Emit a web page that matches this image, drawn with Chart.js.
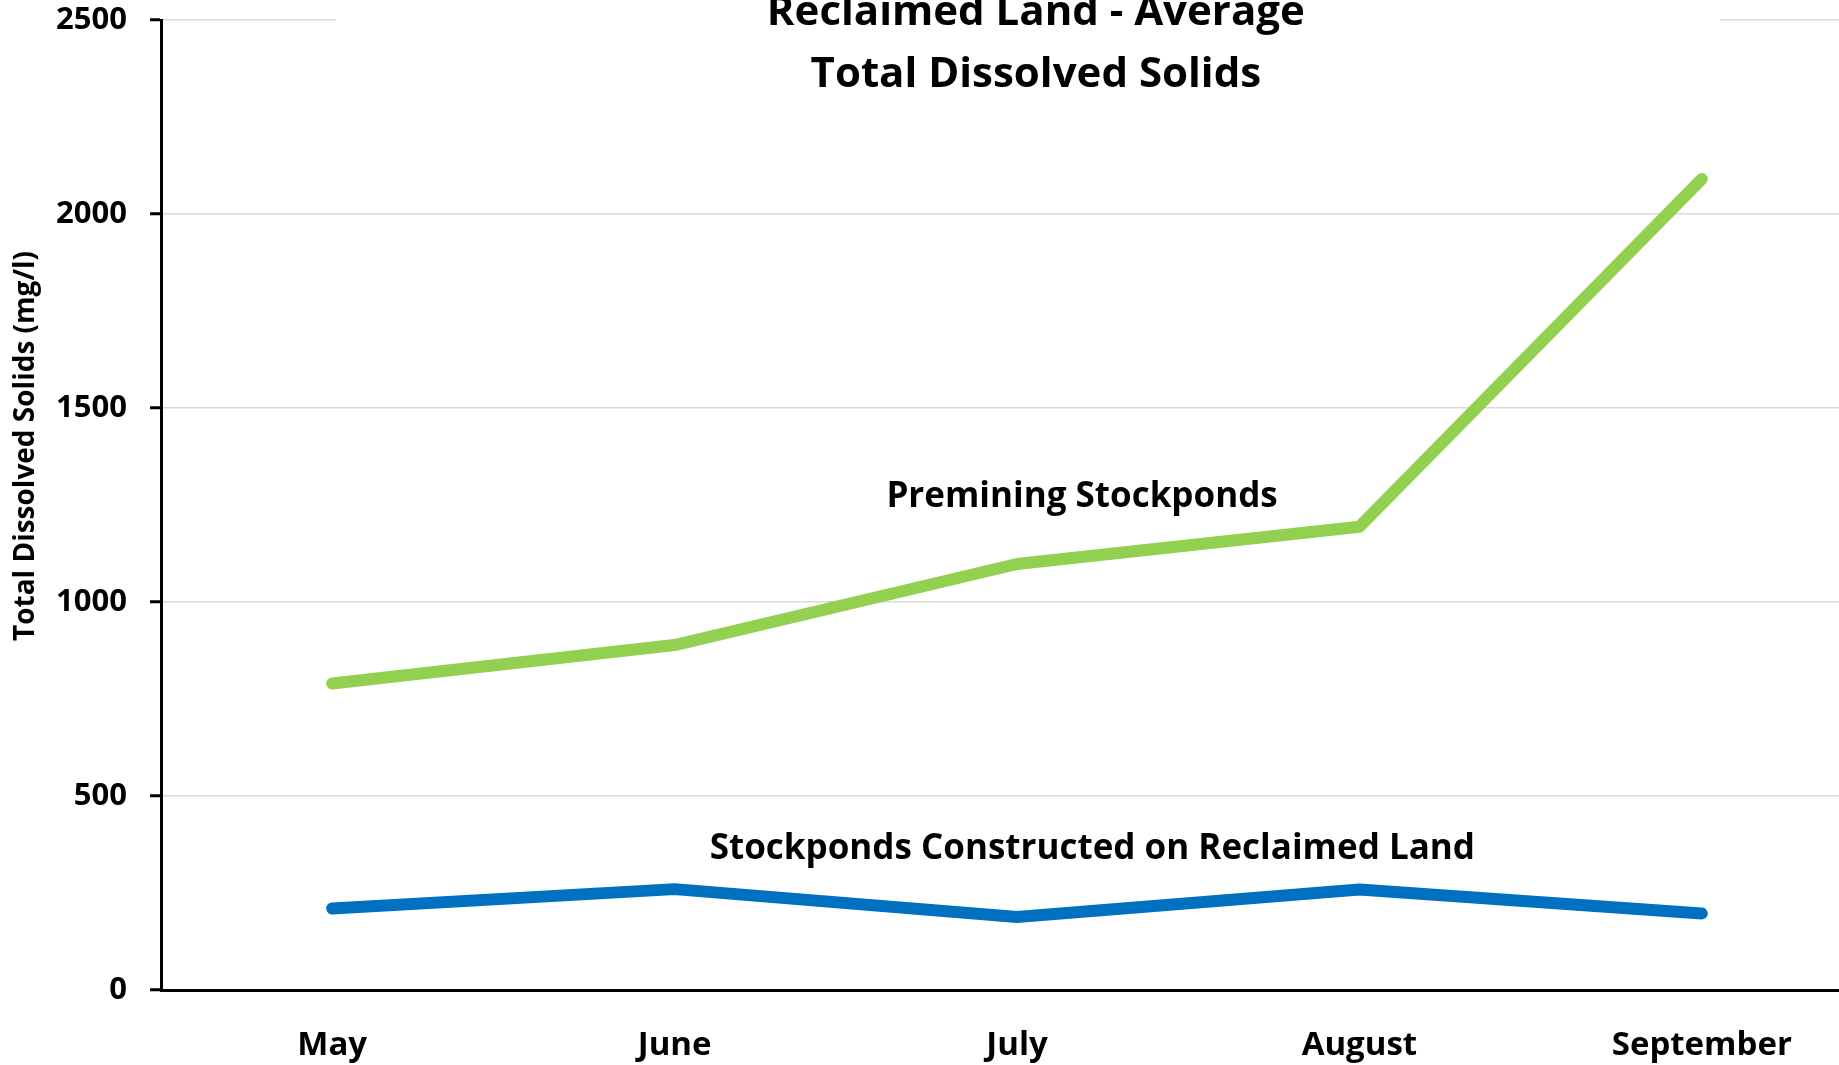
<!DOCTYPE html>
<html>
<head>
<meta charset="utf-8">
<script src="https://cdn.jsdelivr.net/npm/chart.js@4.4.1/dist/chart.umd.min.js"></script>
<style>
  html, body { margin: 0; padding: 0; background: #fff; overflow: hidden; }
  #wrap { position: relative; width: 1880px; height: 1065px; }
</style>
</head>
<body>
<div id="wrap"><canvas id="tds"></canvas></div>
<script>
// monthly averages, mg/l
const months = ['May', 'June', 'July', 'August', 'September'];
const premining = [790, 889, 1098, 1194, 2090];
const reclaimed = [210, 260, 188, 259, 197];

const titleLines = ['Reclaimed Land - Average', 'Total Dissolved Solids'];
const yTitle = 'Total Dissolved Solids (mg/l)';
const seriesNames = ['Premining Stockponds', 'Stockponds Constructed on Reclaimed Land'];

const font = '"Open Sans", Calibri, sans-serif';

// title, axis title and the in-plot series names
const annotations = {
  id: 'annotations',
  beforeDatasetsDraw(chart) {
    const ctx = chart.ctx;
    const ca = chart.chartArea;
    // title box hides the top gridline behind it
    ctx.save();
    ctx.fillStyle = '#fff';
    ctx.fillRect(ca.left + 175, 0, 1384, ca.top + 4);
    ctx.restore();
  },
  afterDraw(chart) {
    const ctx = chart.ctx;
    const ca = chart.chartArea;
    const x = chart.scales.x;
    const y = chart.scales.y;
    ctx.save();
    ctx.fillStyle = '#000';
    ctx.textAlign = 'center';
    ctx.textBaseline = 'alphabetic';

    ctx.font = 'bold 42px ' + font;
    const tx = ca.left + ca.width * 0.511;
    ctx.fillText(titleLines[0], tx, 25);
    ctx.fillText(titleLines[1], tx, 87);

    ctx.font = 'bold 35px ' + font;
    ctx.fillText(seriesNames[0], x.getPixelForValue(2.19), y.getPixelForValue(1245));
    ctx.fillText(seriesNames[1], x.getPixelForValue(2.22), y.getPixelForValue(338));

    ctx.translate(26, 446);
    ctx.rotate(-Math.PI / 2);
    ctx.textBaseline = 'middle';
    ctx.font = 'bold 28px ' + font;
    ctx.fillText(yTitle, 0, 0);
    ctx.restore();
  }
};

new Chart(document.getElementById('tds'), {
  type: 'line',
  data: {
    labels: months,
    datasets: [
      {
        label: seriesNames[0],
        data: premining,
        borderColor: '#92D050',
        borderWidth: 12,
        borderCapStyle: 'round',
        borderJoinStyle: 'round',
        pointRadius: 0,
        tension: 0
      },
      {
        label: seriesNames[1],
        data: reclaimed,
        borderColor: '#0070C0',
        borderWidth: 12,
        borderCapStyle: 'round',
        borderJoinStyle: 'round',
        pointRadius: 0,
        tension: 0
      }
    ]
  },
  options: {
    responsive: true,
    maintainAspectRatio: false,
    animation: false,
    layout: { padding: { top: 20, right: 7, left: 0, bottom: 0 } },
    plugins: {
      legend: { display: false },
      title: { display: false },
      tooltip: { enabled: false }
    },
    scales: {
      x: {
        offset: true,
        grid: { display: false, drawTicks: false },
        border: { display: true, color: '#000', width: 3 },
        ticks: {
          color: '#000',
          padding: 36,
          font: { family: font, size: 33, weight: 'bold' }
        },
        afterFit(scale) { scale.height = 75; }
      },
      y: {
        min: 0,
        max: 2500,
        grid: {
          color: '#d9d9d9',
          lineWidth: 1.5,
          drawTicks: true,
          tickLength: 11,
          tickColor: '#000',
          tickWidth: 3
        },
        border: { display: true, color: '#000', width: 3 },
        ticks: {
          stepSize: 500,
          color: '#000',
          padding: 23,
          font: { family: font, size: 31, weight: 'bold' },
          callback: v => String(v)
        },
        afterFit(scale) {
          scale.width = 161;
          // top label may hang over the canvas edge, no extra room needed
          scale.paddingTop = 0;
          scale.paddingBottom = 0;
        }
      }
    }
  },
  plugins: [annotations]
});
</script>
</body>
</html>
